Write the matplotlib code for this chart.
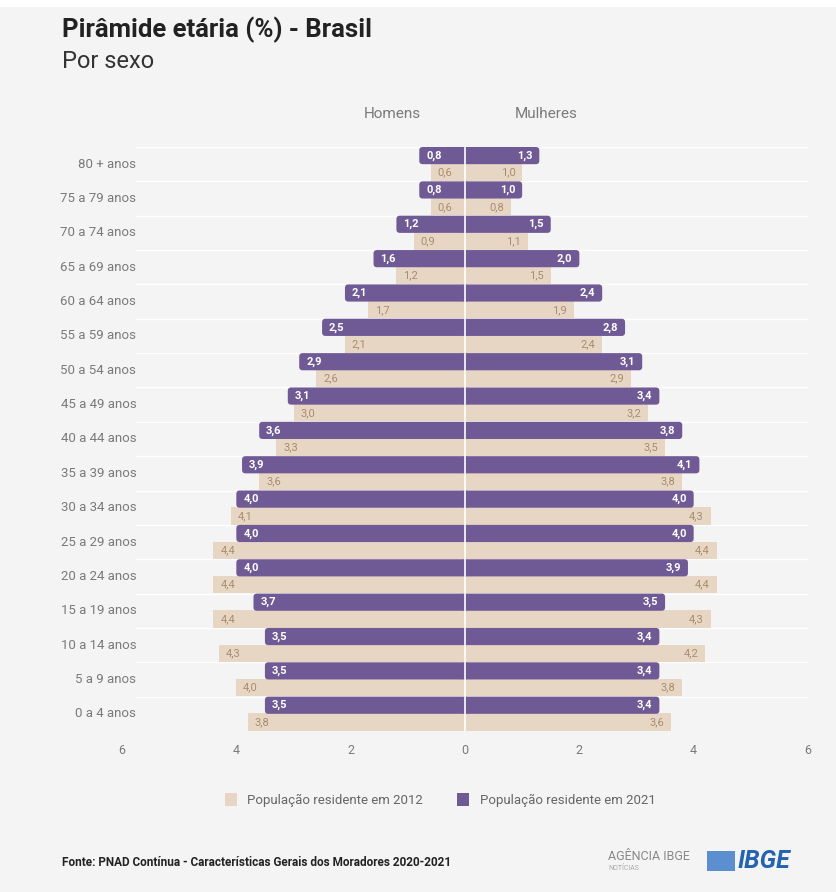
import numpy as np
import matplotlib
matplotlib.use('Agg')
import matplotlib.pyplot as plt
from matplotlib import font_manager
from matplotlib.patches import Rectangle, FancyBboxPatch

# faixas etarias, de baixo (0 a 4) para cima (80 +)
faixas = ['0 a 4 anos', '5 a 9 anos', '10 a 14 anos', '15 a 19 anos', '20 a 24 anos',
          '25 a 29 anos', '30 a 34 anos', '35 a 39 anos', '40 a 44 anos', '45 a 49 anos',
          '50 a 54 anos', '55 a 59 anos', '60 a 64 anos', '65 a 69 anos', '70 a 74 anos',
          '75 a 79 anos', '80 + anos']
homens_2021 = [3.5, 3.5, 3.5, 3.7, 4.0, 4.0, 4.0, 3.9, 3.6, 3.1, 2.9, 2.5, 2.1, 1.6, 1.2, 0.8, 0.8]
homens_2012 = [3.8, 4.0, 4.3, 4.4, 4.4, 4.4, 4.1, 3.6, 3.3, 3.0, 2.6, 2.1, 1.7, 1.2, 0.9, 0.6, 0.6]
mulheres_2021 = [3.4, 3.4, 3.4, 3.5, 3.9, 4.0, 4.0, 4.1, 3.8, 3.4, 3.1, 2.8, 2.4, 2.0, 1.5, 1.0, 1.3]
mulheres_2012 = [3.6, 3.8, 4.2, 4.3, 4.4, 4.4, 4.3, 3.8, 3.5, 3.2, 2.9, 2.4, 1.9, 1.5, 1.1, 0.8, 1.0]
xticks = [-6, -4, -2, 0, 2, 4, 6]

roxo = '#6f5a95'
bege = '#e8d6c5'
txt_bege = '#a68d6c'
cinza = '#7a7a7a'
fundo = '#f4f4f4'

installed = {f.name for f in font_manager.fontManager.ttflist}
fam = [f for f in ['Liberation Sans Narrow', 'Roboto', 'DejaVu Sans'] if f in installed]
plt.rcParams['font.family'] = fam


def fmt(v):
    return ('%.1f' % v).replace('.', ',')


def arredonda(ax, bars, r=0.06, aspect=1.66):
    # troca os retangulos por caixas de cantos arredondados
    for b in bars:
        x0, y0, w, hh = b.get_x(), b.get_y(), b.get_width(), b.get_height()
        if w < 0:
            x0, w = x0 + w, -w
        # a ponta interna passa um pouco do zero para nao deixar entalhe no centro
        if x0 < 0:
            w += r
        else:
            x0 -= r
            w += r
        p = FancyBboxPatch((x0, y0), w, hh, boxstyle='round,pad=0,rounding_size=%s' % r,
                           mutation_aspect=aspect, facecolor=b.get_facecolor(),
                           edgecolor='none', zorder=b.get_zorder())
        b.remove()
        ax.add_patch(p)


fig = plt.figure(figsize=(8.36, 8.92), dpi=100, facecolor=fundo)
fig.patches.append(Rectangle((0, 1 - 7 / 892), 1, 7 / 892, transform=fig.transFigure,
                             facecolor='white', edgecolor='none'))
ax = fig.add_axes([122 / 836, 1 - 731 / 892, 686 / 836, 584 / 892])
ax.set_facecolor(fundo)
for s in ax.spines.values():
    s.set_visible(False)

y = np.arange(len(faixas))
h = 0.5
ax.barh(y - 0.24, [-v for v in homens_2012], height=h, color=bege, zorder=2)
ax.barh(y - 0.24, mulheres_2012, height=h, color=bege, zorder=2)
b1 = ax.barh(y + 0.25, [-v for v in homens_2021], height=h, color=roxo, zorder=3)
b2 = ax.barh(y + 0.25, mulheres_2021, height=h, color=roxo, zorder=3)
arredonda(ax, list(b1) + list(b2))

# linhas brancas entre grupos
for k in range(len(faixas) + 1):
    ax.axhline(k - 0.5, xmin=0.02, xmax=1, color='white', lw=1, zorder=1)
ax.axvline(0, color='white', lw=1.2, zorder=4)

pad = 0.12
for k in range(len(faixas)):
    ax.text(-homens_2021[k] + pad, k + 0.25, fmt(homens_2021[k]), color='white',
            fontsize=8, fontweight='bold', ha='left', va='center', zorder=5)
    ax.text(mulheres_2021[k] - pad, k + 0.25, fmt(mulheres_2021[k]), color='white',
            fontsize=8, fontweight='bold', ha='right', va='center', zorder=5)
    ax.text(-homens_2012[k] + pad, k - 0.24, fmt(homens_2012[k]), color=txt_bege,
            fontsize=8, ha='left', va='center', zorder=5)
    ax.text(mulheres_2012[k] - pad, k - 0.24, fmt(mulheres_2012[k]), color=txt_bege,
            fontsize=8, ha='right', va='center', zorder=5)
    ax.text(-5.75, k, faixas[k], color=cinza, fontsize=9.5, ha='right', va='center')

ax.set_ylim(-0.5, 16.5)
ax.set_xlim(-6, 6)
ax.set_yticks([])
ax.set_xticks(xticks)
ax.set_xticklabels([str(abs(t)) for t in xticks], color=cinza, fontsize=9)
ax.tick_params(axis='x', length=0, pad=9)

fig.text(62 / 836, 1 - 30 / 892, 'Pirâmide etária (%) - Brasil', fontsize=18.5,
         fontweight='bold', color='#222222', va='center')
fig.text(62 / 836, 1 - 62 / 892, 'Por sexo', fontsize=17, color='#333333', va='center')
fig.text(392 / 836, 1 - 114 / 892, 'Homens', fontsize=11, color=cinza, ha='center', va='center')
fig.text(546 / 836, 1 - 114 / 892, 'Mulheres', fontsize=11, color=cinza, ha='center', va='center')

h12 = Rectangle((0, 0), 1, 1, facecolor=bege)
h21 = Rectangle((0, 0), 1, 1, facecolor=roxo)
fig.legend([h12, h21], ['População residente em 2012', 'População residente em 2021'],
           loc='center', bbox_to_anchor=(440 / 836, 1 - 800 / 892), ncol=2, frameon=False,
           fontsize=9.5, labelcolor='#666666', handlelength=0.9, handleheight=1.2,
           columnspacing=2.6, handletextpad=0.8)

fig.text(62 / 836, 1 - 862 / 892,
         'Fonte: PNAD Contínua - Características Gerais dos Moradores 2020-2021',
         fontsize=8.5, fontweight='bold', color='#222222', va='center')
fig.text(608 / 836, 1 - 857 / 892, 'AGÊNCIA IBGE', fontsize=9, color='#888888', va='center')
fig.text(608 / 836, 1 - 869 / 892, 'NOTÍCIAS', fontsize=5, color='#aaaaaa', va='center')
fig.patches.append(Rectangle((707 / 836, 1 - 871 / 892), 28 / 836, 20 / 892,
                             transform=fig.transFigure, facecolor='#5b8fd0', edgecolor='none'))
fig.text(738 / 836, 1 - 861 / 892, 'IBGE', fontsize=18, fontweight='bold', style='italic',
         color='#2463b0', va='center')

fig.savefig('out.png', dpi=100, facecolor=fundo)
